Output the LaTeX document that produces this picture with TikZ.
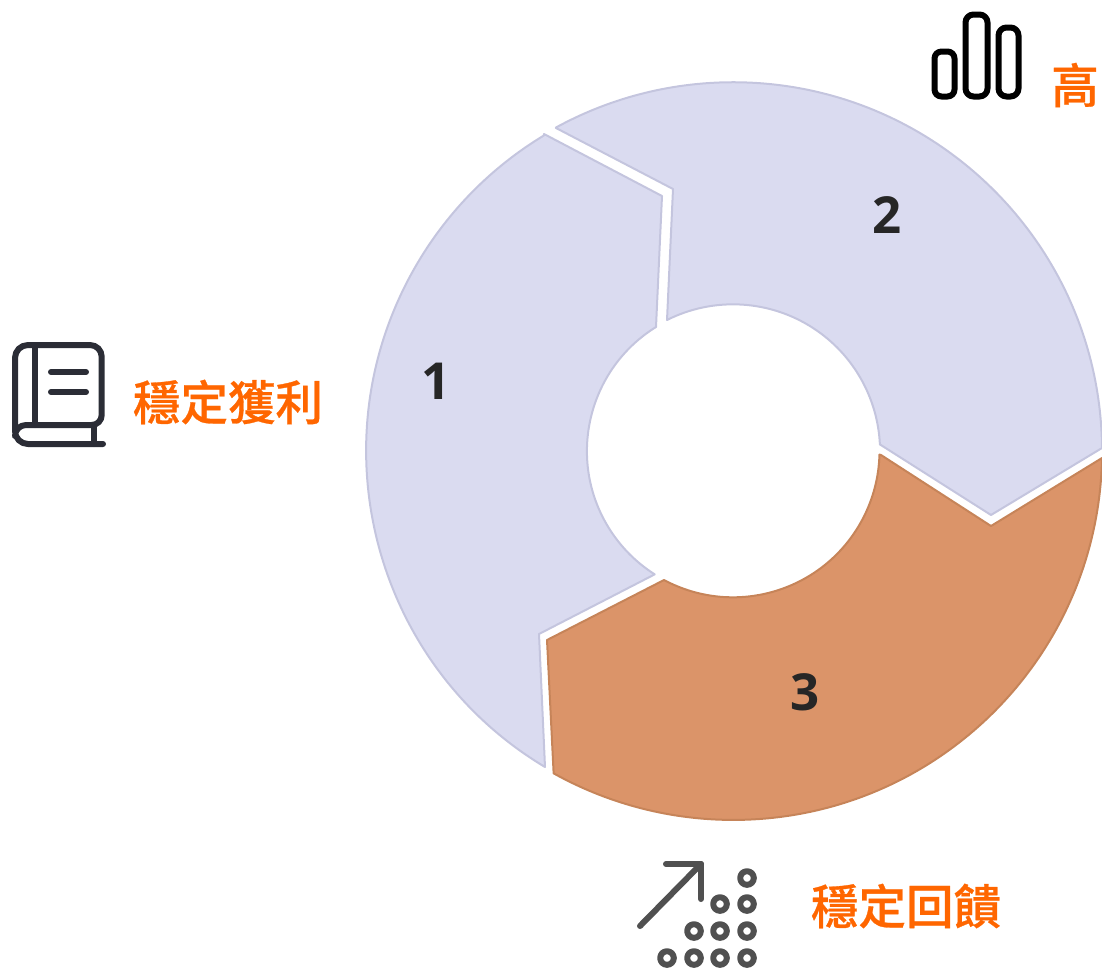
\documentclass[tikz,border=0pt]{standalone}
\usepackage{fontspec}
\setmainfont{Open Sans}
\newfontfamily\cjk[FakeBold=0.6]{Noto Sans CJK TC Medium}
\definecolor{lavender}{HTML}{DADBF0}
\definecolor{lavenderline}{HTML}{C4C5DE}
\definecolor{clay}{HTML}{DB9469}
\definecolor{clayline}{HTML}{C68459}
\definecolor{labelorange}{HTML}{FF6600}
\definecolor{bookink}{HTML}{2B2D36}
\definecolor{dotink}{HTML}{505050}
\tikzset{
  x=1pt, y=1pt, % one unit is one pixel of the reference
  segment/.style={draw=lavenderline, fill=lavender, line width=2pt, line join=round},
  hotsegment/.style={segment, draw=clayline, fill=clay},
  number/.style={font=\fontsize{51}{51}\selectfont\bfseries, text=black!85},
  caption/.style={font=\fontsize{47.5}{50}\selectfont\cjk, text=labelorange},
  icon/.style={line width=6pt, line cap=round, line join=round},
}

\begin{document}
\begin{tikzpicture}
    \useasboundingbox (0,-970) rectangle (1102,0);
    % ring
    \draw[segment] (544,-134) -- (662,-196) -- (656,-327)
      arc[start angle=121.8, end angle=237.6, radius=146pt]
      -- (539,-634) -- (545,-767)
      arc[start angle=239.2, end angle=121, x radius=366.5pt, y radius=368pt] -- cycle;
    \draw[segment] (556,-128) -- (673,-189) -- (667,-320)
      arc[start angle=116.7, end angle=2.7, radius=147pt]
      -- (991,-515) -- (1102,-448)
      arc[start angle=0.5, end angle=118.7, radius=369pt] -- cycle;
    \draw[hotsegment] (881,-455) -- (991,-526) -- (1102,-458)
      arc[start angle=-1.1, end angle=-119.1, radius=369pt]
      -- (547,-640) -- (664,-580)
      arc[start angle=241.9, end angle=358.5, radius=146.5pt] -- cycle;
    \node[number] (n1) at (436,-381) {1};
    \node[number] (n2) at (887,-215) {2};
    \node[number] (n3) at (805,-692) {3};
    % captions
    \node[caption] (profit)   at (228,-402) {穩定獲利};
    \node[caption] (feedback) at (906,-906) {穩定回饋};
    \node[caption] (high)     at (1075,-85) {高};
    % bars
    \draw[icon, black, rounded corners=7pt] (934.5,-96.5) rectangle (954.5,-51.5);
    \draw[icon, black, rounded corners=8pt] (965.5,-96.5) rectangle (987.5,-14.5);
    \draw[icon, black, rounded corners=8pt] (998.5,-96.5) rectangle (1018.5,-27.5);
    % book
    \begin{scope}[icon, bookink]
      \draw (103,-444) -- (28,-444) arc[start angle=270, end angle=180, radius=13pt]
        -- (15,-358) arc[start angle=180, end angle=90, radius=13pt]
        -- (90,-345) arc[start angle=90, end angle=0, radius=11.7pt]
        -- (101.7,-415) arc[start angle=0, end angle=-90, radius=10pt]
        -- (26,-425) arc[start angle=90, end angle=180, radius=11pt];
      \draw (35,-345) -- (35,-425);
      \draw (94,-425) -- (94,-444);
      \draw (51,-372) -- (86,-372);
      \draw (51,-392) -- (86,-392);
    \end{scope}
    % arrow and dots
    \begin{scope}[icon, dotink]
      \draw (640,-926) -- (701,-864);
      \draw (666,-864) -- (701,-864) -- (701,-899);
      \foreach \yy/\cols in {878/{747}, 904/{720,747}, 931/{694,720,747}, 958/{667,694,720,747}}
        \foreach \xx in \cols
          \draw (\xx,-\yy) circle[radius=6.8pt];
    \end{scope}
\end{tikzpicture}
\end{document}
